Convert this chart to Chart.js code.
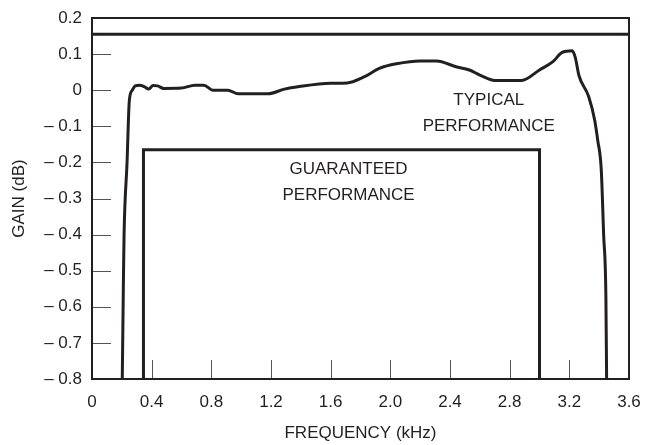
<!DOCTYPE html>
<html lang="en">
<head>
  <meta charset="UTF-8">
  <title>Gain vs Frequency</title>
  <script src="https://cdn.jsdelivr.net/npm/chart.js"></script>
  <style>
    html, body { margin: 0; padding: 0; background: #ffffff; }
    #wrap { width: 647px; height: 445px; }
  </style>
</head>
<body>
  <div id="wrap"><canvas id="myChart" width="647" height="445"></canvas></div>
  <script>
    // typical response curve (kHz, dB)
    const typFreq = [0.203, 0.21, 0.215, 0.235, 0.25, 0.27, 0.29, 0.32, 0.35, 0.38, 0.41, 0.44, 0.48, 0.6, 0.69, 0.75, 0.81, 0.91, 0.98, 1.18, 1.29, 1.39, 1.6, 1.71, 1.82, 1.93, 2.04, 2.2, 2.31, 2.44, 2.53, 2.6, 2.7, 2.88, 3.0, 3.09, 3.15, 3.22, 3.24, 3.265, 3.33, 3.37, 3.39, 3.414, 3.43, 3.445, 3.45];
    const typGain = [-0.8, -0.55, -0.4, -0.2, -0.03, 0.0, 0.012, 0.014, 0.01, 0.003, 0.013, 0.012, 0.005, 0.006, 0.014, 0.014, 0.0, 0.0, -0.01, -0.01, 0.003, 0.01, 0.019, 0.02, 0.036, 0.061, 0.073, 0.081, 0.081, 0.065, 0.056, 0.042, 0.027, 0.027, 0.056, 0.079, 0.104, 0.109, 0.09, 0.04, -0.018, -0.083, -0.138, -0.22, -0.4, -0.57, -0.8];

    // guaranteed box
    const guarFreq = [0.345, 0.345, 3.0, 3.0];
    const guarGain = [-0.8, -0.165, -0.165, -0.8];

    // upper limit line
    const limFreq = [0, 3.6];
    const limGain = [0.155, 0.155];

    const xTicks = [0, 0.4, 0.8, 1.2, 1.6, 2.0, 2.4, 2.8, 3.2, 3.6];
    const yTicks = [0.2, 0.1, 0, -0.1, -0.2, -0.3, -0.4, -0.5, -0.6, -0.7, -0.8];

    const notes = [
      { x: 2.66, y: -0.028, text: 'TYPICAL' },
      { x: 2.66, y: -0.1, text: 'PERFORMANCE' },
      { x: 1.72, y: -0.22, text: 'GUARANTEED' },
      { x: 1.72, y: -0.292, text: 'PERFORMANCE' }
    ];

    const FONT = '"Liberation Sans", Arial, sans-serif';
    const INK = '#231f20';

    function pts(xs, ys) {
      return xs.map((x, i) => ({ x: x, y: ys[i] }));
    }

    // frame, inward ticks and the two text notes
    const extras = {
      id: 'extras',
      beforeDatasetsDraw(chart) {
        const ctx = chart.ctx;
        const xs = chart.scales.x, ys = chart.scales.y;
        const a = chart.chartArea;
        ctx.save();
        ctx.strokeStyle = '#555';
        ctx.lineWidth = 1;
        xTicks.slice(1, -1).forEach(v => {
          const px = Math.round(xs.getPixelForValue(v)) + 0.5;
          ctx.beginPath();
          ctx.moveTo(px, a.bottom);
          ctx.lineTo(px, a.bottom - 19);
          ctx.stroke();
        });
        yTicks.slice(1, -1).forEach(v => {
          const py = Math.round(ys.getPixelForValue(v)) + 0.5;
          ctx.beginPath();
          ctx.moveTo(a.left, py);
          ctx.lineTo(a.left + 19, py);
          ctx.stroke();
        });
        ctx.restore();
      },
      afterDatasetsDraw(chart) {
        const ctx = chart.ctx;
        const xs = chart.scales.x, ys = chart.scales.y;
        const a = chart.chartArea;
        ctx.save();
        ctx.strokeStyle = INK;
        ctx.lineWidth = 2;
        ctx.strokeRect(a.left, a.top, a.right - a.left, a.bottom - a.top);
        ctx.fillStyle = INK;
        ctx.font = '17px ' + FONT;
        ctx.textAlign = 'center';
        ctx.textBaseline = 'middle';
        notes.forEach(n => {
          ctx.fillText(n.text, xs.getPixelForValue(n.x), ys.getPixelForValue(n.y));
        });
        ctx.restore();
      }
    };

    const lineStyle = {
      borderColor: INK,
      borderWidth: 3,
      pointRadius: 0,
      fill: false
    };

    new Chart(document.getElementById('myChart'), {
      type: 'line',
      data: {
        datasets: [
          Object.assign({ label: 'Typical', data: pts(typFreq, typGain), cubicInterpolationMode: 'monotone' }, lineStyle),
          Object.assign({ label: 'Guaranteed', data: pts(guarFreq, guarGain), tension: 0 }, lineStyle),
          Object.assign({ label: 'Limit', data: pts(limFreq, limGain), tension: 0 }, lineStyle)
        ]
      },
      options: {
        responsive: false,
        animation: false,
        layout: { padding: { left: 0, right: 18, top: 18, bottom: 0 } },
        plugins: {
          legend: { display: false },
          tooltip: { enabled: false }
        },
        scales: {
          x: {
            type: 'linear',
            min: 0,
            max: 3.6,
            afterBuildTicks(scale) { scale.ticks = xTicks.map(v => ({ value: v })); },
            afterFit(scale) { scale.height = 66; scale.paddingLeft = 0; scale.paddingRight = 0; },
            grid: { display: false, drawTicks: false },
            border: { display: false },
            ticks: {
              color: INK,
              padding: 13,
              maxRotation: 0,
              font: { family: FONT, size: 17 },
              callback: v => v === 0 ? '0' : v.toFixed(1)
            },
            title: {
              display: true,
              text: 'FREQUENCY (kHz)',
              color: INK,
              font: { family: FONT, size: 17 },
              padding: { top: 4, bottom: 1 }
            }
          },
          y: {
            type: 'linear',
            min: -0.8,
            max: 0.2,
            afterBuildTicks(scale) { scale.ticks = yTicks.map(v => ({ value: v })); },
            afterFit(scale) { scale.width = 92; scale.paddingTop = 0; scale.paddingBottom = 0; },
            grid: { display: false, drawTicks: false },
            border: { display: false },
            ticks: {
              color: INK,
              padding: 10,
              font: { family: FONT, size: 17 },
              callback: v => {
                const r = Math.round(v * 10) / 10;
                if (r === 0) return '0';
                return (r < 0 ? '\u2013 ' : '') + Math.abs(r).toFixed(1);
              }
            },
            title: {
              display: true,
              text: 'GAIN (dB)',
              color: INK,
              font: { family: FONT, size: 17 },
              padding: { top: 9, bottom: 0 }
            }
          }
        }
      },
      plugins: [extras]
    });
  </script>
</body>
</html>
